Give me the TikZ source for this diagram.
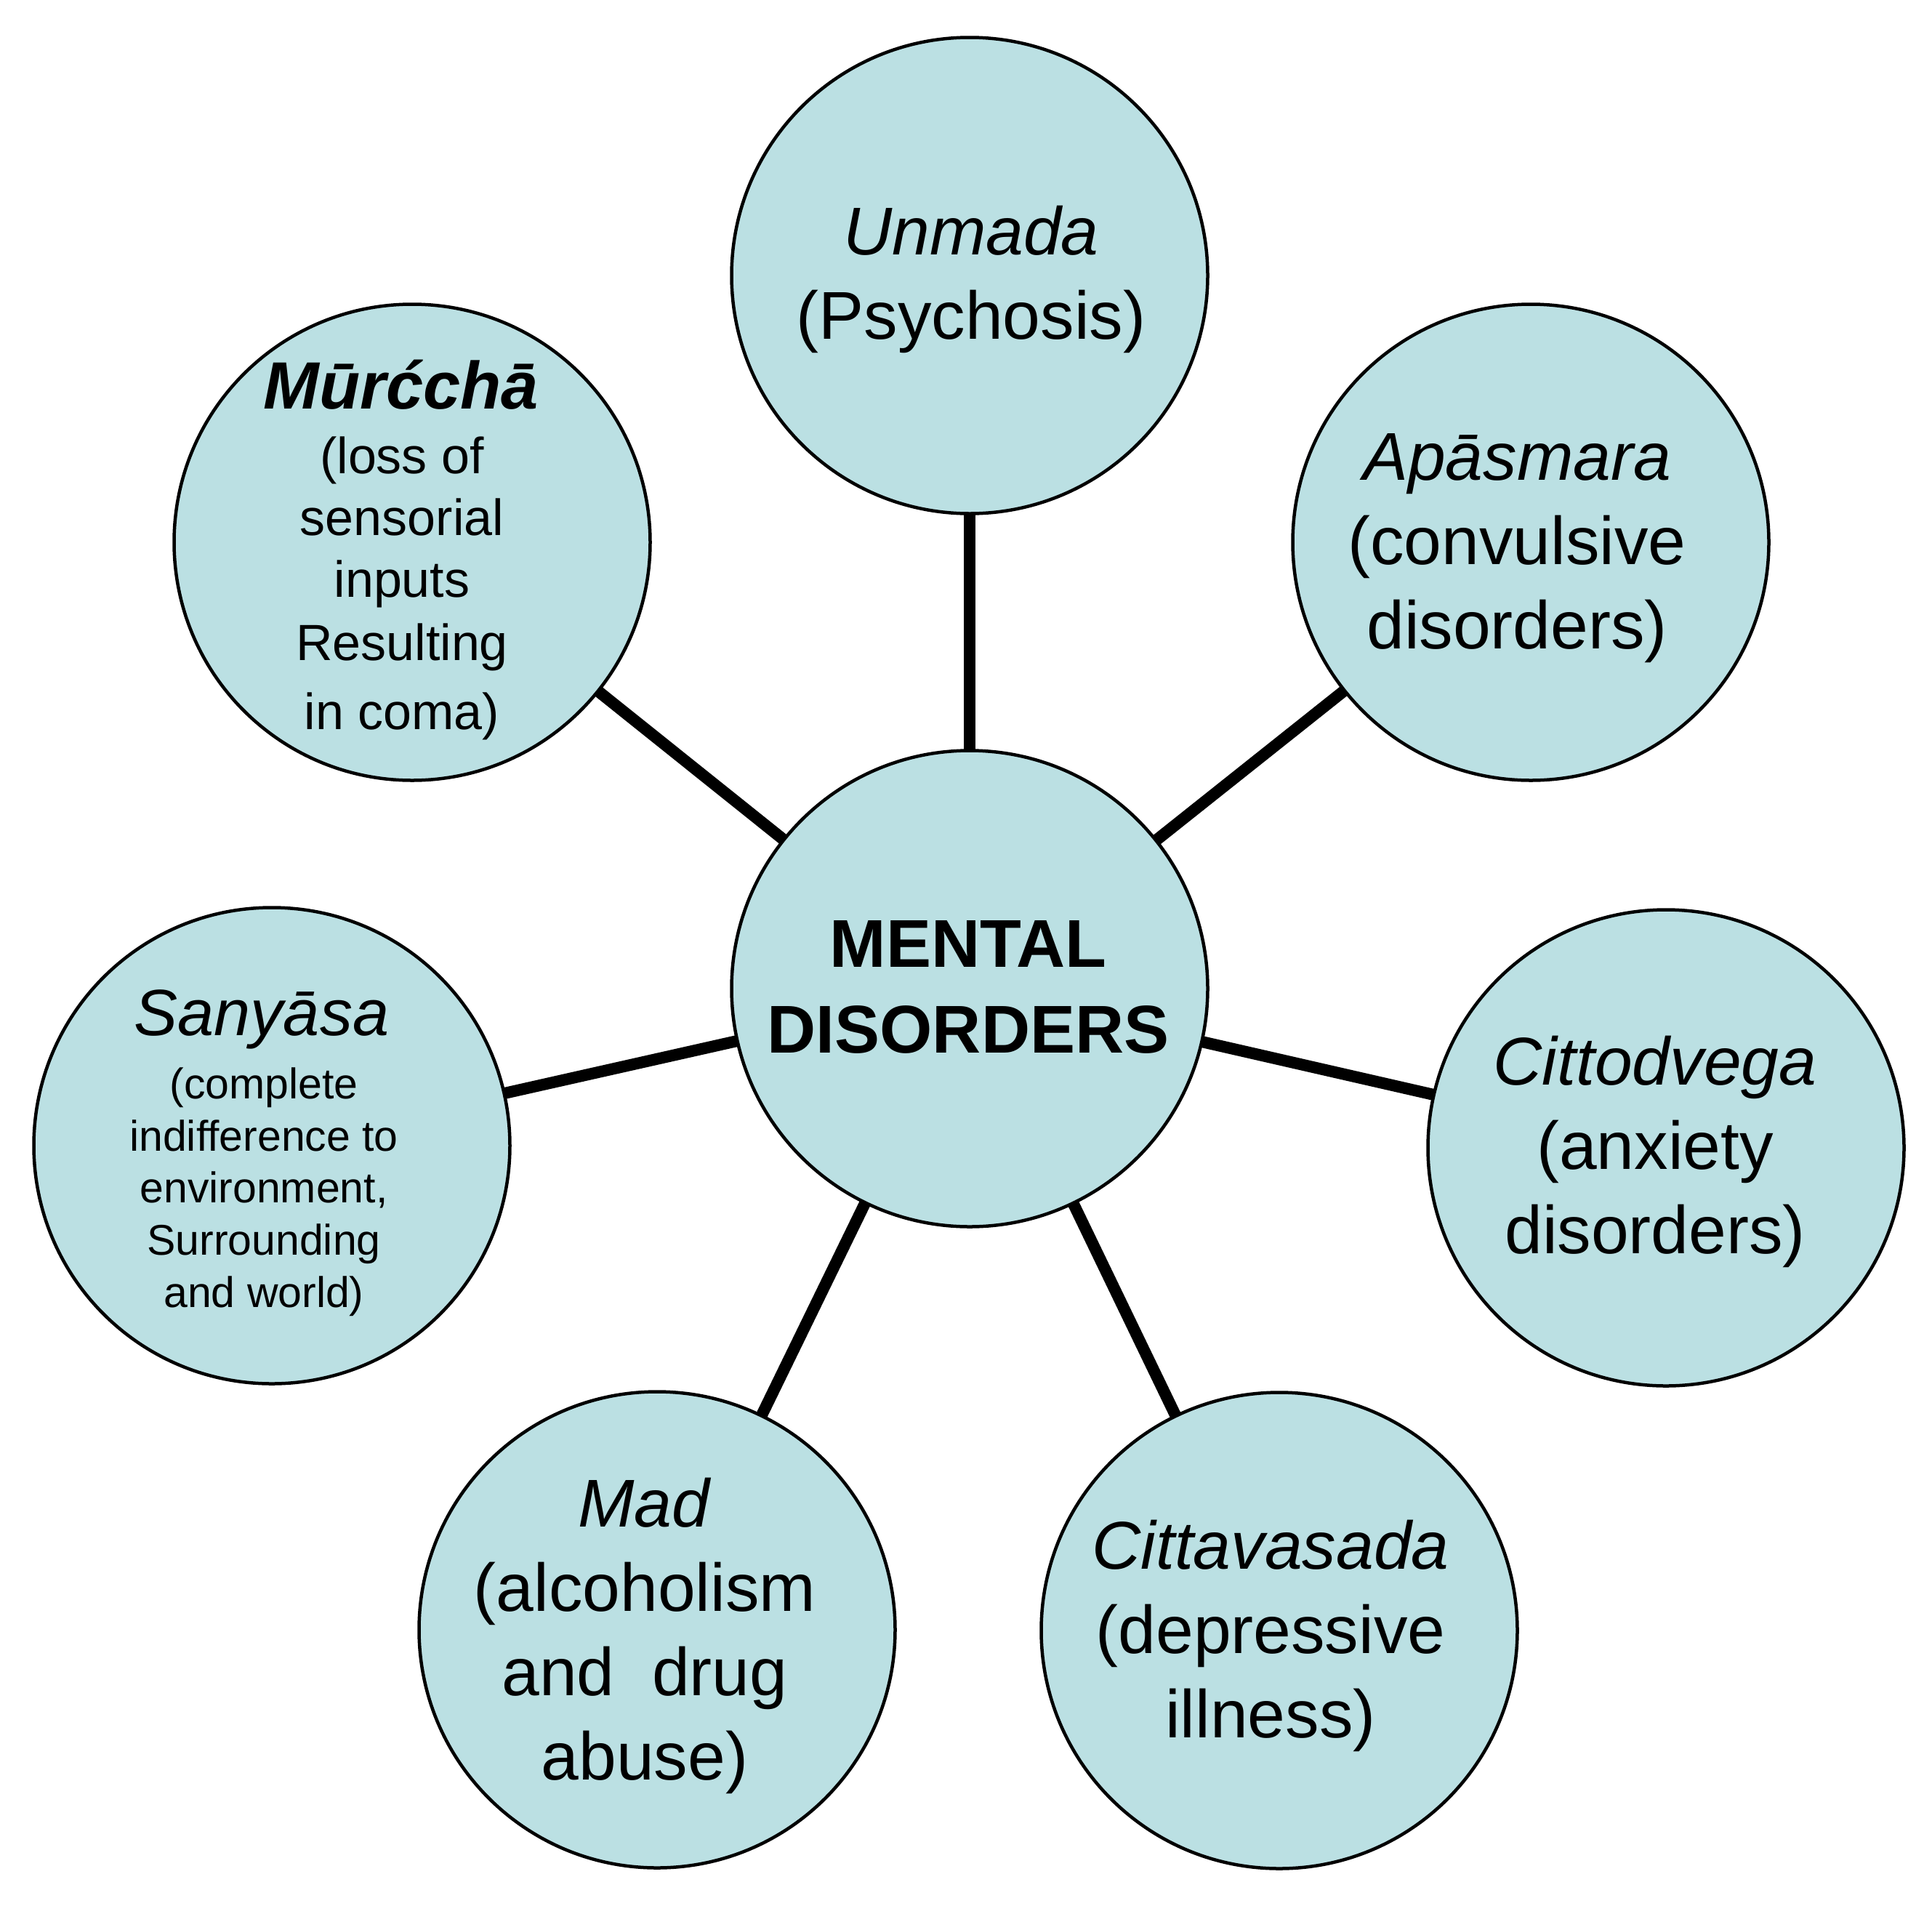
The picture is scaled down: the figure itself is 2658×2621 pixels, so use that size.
\documentclass[tikz,border=0pt]{standalone}
\usepackage{fontspec}
\setmainfont{Liberation Sans}
\usetikzlibrary{backgrounds}
\definecolor{discfill}{HTML}{BBE0E3}
\begin{document}
\begin{tikzpicture}[x=1pt,y=-1pt,
  disc/.style={circle,draw=black,line width=4.5pt,fill=discfill,minimum size=655pt,inner sep=0pt},
  link/.style={line width=16pt,draw=black},
  bigtext/.style={inner sep=0pt,align=center,font=\fontsize{93}{116}\selectfont},
  centertext/.style={inner sep=0pt,align=center,font=\fontsize{93}{118}\selectfont\bfseries},
  titletext/.style={inner sep=0pt,anchor=base},
  smalltext/.style={inner sep=0pt,align=center}]
\useasboundingbox (0,0) rectangle (2658,2621);
% discs
\node[disc] (center) at (1334,1360) {};
\node[disc] (unmada) at (1334,379) {};
\node[disc] (apasmara) at (2106,746) {};
\node[disc] (murccha) at (567,746) {};
\node[disc] (cittodvega) at (2292,1579) {};
\node[disc] (sanyasa) at (374,1576) {};
\node[disc] (cittavasada) at (1760,2243) {};
\node[disc] (mad) at (904,2242) {};
% connectors
\begin{scope}[on background layer]
\fill[white] (0,0) rectangle (2658,2621);
\draw[link] (center.center) -- (unmada.center);
\draw[link] (center.center) -- (apasmara.center);
\draw[link] (center.center) -- (murccha.center);
\draw[link] (center.center) -- (cittodvega.center);
\draw[link] (center.center) -- (sanyasa.center);
\draw[link] (center.center) -- (cittavasada.center);
\draw[link] (center.center) -- (mad.center);
\end{scope}
% texts
\node[centertext] (tcenter) at (1332,1358) {MENTAL\\DISORDERS};
\node[bigtext] (tunmada) at (1336,384.5) {\textit{Unmada}\\(Psychosis)};
\node[bigtext] (tapasmara) at (2087,754.5) {\textit{Apāsmara}\\(convulsive\\disorders)};
\node[bigtext] (tcittodvega) at (2277,1584) {\textit{Cittodvega}\\(anxiety\\disorders)};
\node[bigtext] (tcittavasada) at (1748,2250.5) {\textit{Cittavasada}\\(depressive\\illness)};
\node[bigtext] (tmad) at (887,2250.5) {\textit{Mad}\\(alcoholism\\and~~drug\\abuse)};
\node[titletext,font=\fontsize{92}{116}\selectfont\bfseries\itshape] (tmurccha) at (552,562) {Mūrćchā};
\node[smalltext,font=\fontsize{70}{85}\selectfont] (dmurccha) at (553,809.4) {(loss of\\sensorial\\inputs\\[1.6pt]Resulting\\[10pt]in coma)};
\node[titletext,font=\fontsize{90}{116}\selectfont\itshape] (tsanyasa) at (360,1424) {Sanyāsa};
\node[smalltext,font=\fontsize{59}{71.7}\selectfont] (dsanyasa) at (363,1639.7) {(complete\\indifference to\\environment,\\Surrounding\\and world)};
\end{tikzpicture}
\end{document}
